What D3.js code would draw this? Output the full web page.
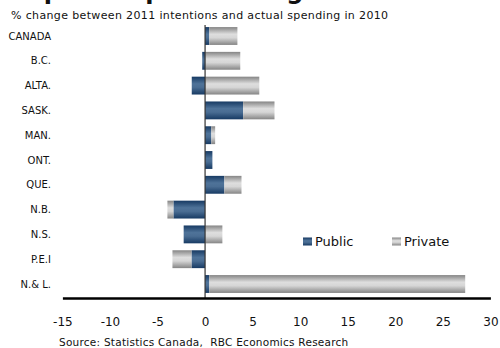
<!DOCTYPE html>
<html>
<head>
<meta charset="utf-8">
<script src="https://cdn.jsdelivr.net/npm/d3@7"></script>
<style>
  html, body { margin: 0; padding: 0; background: #fff; }
  svg { display: block; }
  text { font-family: "DejaVu Sans", Verdana, sans-serif; fill: #111; }
</style>
</head>
<body>
<svg id="chart" width="500" height="348"></svg>
<script>
// ---- data ----
const categories = ["CANADA", "B.C.", "ALTA.", "SASK.", "MAN.", "ONT.", "QUE.", "N.B.", "N.S.", "P.E.I", "N.& L."];
const publicValues  = [0.45, -0.3, -1.4, 4.0, 0.66, 0.77, 2.03, -3.33, -2.25, -1.43, 0.45];
const privateValues = [2.95, 3.7, 5.7, 3.3, 0.4, 0.0, 1.8, -0.63, 1.82, -2.0, 26.9];
const seriesNames = ["Public", "Private"];
const xTicks = [-15, -10, -5, 0, 5, 10, 15, 20, 25, 30];
const titleText = "Capital expenditure growth";
const subtitleText = "% change between 2011 intentions and actual spending in 2010";
const sourceText = "Source: Statistics Canada,  RBC Economics Research";

// ---- layout ----
const svg = d3.select("#chart");
const x = d3.scaleLinear().domain([-15, 30]).range([62.4, 490.4]);
const y = d3.scaleBand().domain(categories).range([23.6, 296.4]).paddingInner(0.28).paddingOuter(0.14);

// gradients
const defs = svg.append("defs");
function grad(id, edge, mid, mid2) {
  const g = defs.append("linearGradient").attr("id", id).attr("x1", 0).attr("y1", 0).attr("x2", 0).attr("y2", 1);
  g.append("stop").attr("offset", "0%").attr("stop-color", edge);
  g.append("stop").attr("offset", "40%").attr("stop-color", mid);
  g.append("stop").attr("offset", "60%").attr("stop-color", mid2);
  g.append("stop").attr("offset", "100%").attr("stop-color", edge);
}
grad("gPub", "#173a63", "#4f7399", "#4a6d93");
grad("gPriv", "#858585", "#dedede", "#d6d6d6");

// title (clipped at top in the reference)
svg.append("text").attr("x", 10).attr("y", -1)
  .style("font-family", "'DejaVu Sans', sans-serif").style("font-weight", "bold").style("font-size", "24px")
  .text(titleText);

svg.append("text").attr("x", 11).attr("y", 18.5).style("font-size", "11px").style("letter-spacing", "0.36px").text(subtitleText);

// stacked data (positives stack right, negatives stack left)
const rows = categories.map((c, i) => {
  const vals = [publicValues[i], privateValues[i]];
  let pos = 0, neg = 0;
  return vals.map((v, k) => {
    let x0, x1;
    if (v >= 0) { x0 = pos; x1 = pos + v; pos = x1; }
    else { x0 = neg + v; x1 = neg; neg = x0; }
    return { cat: c, k, x0, x1 };
  });
}).flat();

svg.append("g").selectAll("rect").data(rows).join("rect")
  .attr("x", d => x(d.x0))
  .attr("width", d => Math.max(0, x(d.x1) - x(d.x0)))
  .attr("y", d => y(d.cat))
  .attr("height", y.bandwidth())
  .attr("fill", d => d.k === 0 ? "url(#gPub)" : "url(#gPriv)");

// zero line
svg.append("line").attr("x1", x(0)).attr("x2", x(0)).attr("y1", 25).attr("y2", 298)
  .attr("stroke", "#333").attr("stroke-width", 1.2);

// category labels
svg.append("g").selectAll("text").data(categories).join("text")
  .attr("x", 51).attr("y", d => y(d) + y.bandwidth() / 2)
  .attr("dy", "0.35em").attr("text-anchor", "end")
  .style("font-size", "10px").text(d => d);

// bottom axis
const axis = d3.axisBottom(x).tickValues(xTicks).tickSize(0).tickPadding(19).tickFormat(d3.format("d"));
const ag = svg.append("g").attr("transform", "translate(0,298)").call(axis);
ag.select(".domain").attr("stroke", "#000").attr("stroke-width", 2.5);
ag.selectAll("text").style("font-size", "12px").style("font-family", "'DejaVu Sans', sans-serif").attr("fill", "#111");
ag.selectAll("text").text(d => d < 0 ? "-" + Math.abs(d) : d);

// legend
const legend = [{ name: seriesNames[0], fill: "url(#gPub)", x: 303 }, { name: seriesNames[1], fill: "url(#gPriv)", x: 392 }];
const lg = svg.append("g").selectAll("g").data(legend).join("g").attr("transform", d => `translate(${d.x},237.5)`);
lg.append("rect").attr("width", 9).attr("height", 8).attr("fill", d => d.fill);
lg.append("text").attr("x", 12).attr("y", 4).attr("dy", "0.35em").style("font-size", "13px").text(d => d.name);

// source
svg.append("text").attr("x", 59).attr("y", 346).style("font-size", "10.5px").style("letter-spacing", "0.25px")
  .style("white-space", "pre").text(sourceText);
</script>
</body>
</html>
